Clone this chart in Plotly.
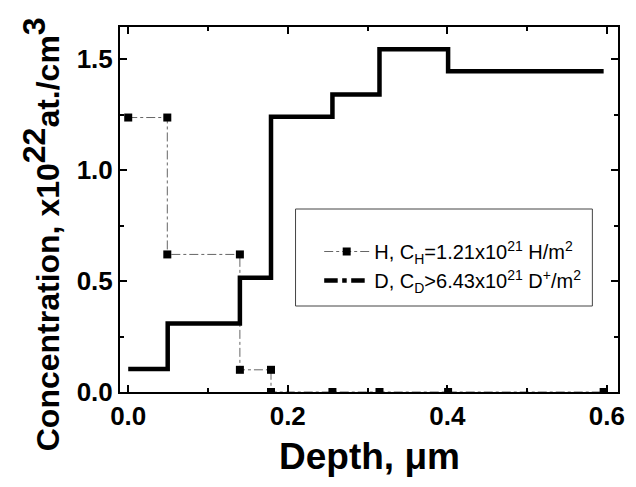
import plotly.graph_objects as go

# H profile (points with markers)
h_depth = [0.0, 0.049, 0.049, 0.140, 0.140, 0.179, 0.179, 0.256, 0.315, 0.401, 0.596]
h_conc = [1.237, 1.237, 0.620, 0.620, 0.100, 0.100, 0.0, 0.0, 0.0, 0.0, 0.0]

# D profile (step, horizontal then vertical)
d_depth = [0.0, 0.0495, 0.140, 0.179, 0.256, 0.315, 0.401, 0.596]
d_conc = [0.104, 0.309, 0.515, 1.240, 1.341, 1.545, 1.446, 1.446]

h_name = "H, C<sub>H</sub>=1.21x10<sup>21</sup> H/m<sup>2</sup>"
d_name = "D, C<sub>D</sub>&gt;6.43x10<sup>21</sup> D<sup>+</sup>/m<sup>2</sup>"

FONT = "Liberation Sans, Arial, sans-serif"

fig = go.Figure()
fig.add_trace(go.Scatter(
    x=h_depth, y=h_conc, mode="lines+markers", name=h_name,
    line=dict(color="#666666", width=1, dash="dashdot"),
    marker=dict(symbol="square", size=8, color="black"),
))
fig.add_trace(go.Scatter(
    x=d_depth, y=d_conc, mode="lines", name=d_name, showlegend=False,
    line=dict(color="black", width=4.5, shape="hv"),
))
fig.add_trace(go.Scatter(
    x=[None], y=[None], mode="lines", name=d_name,
    line=dict(color="black", width=4.5, dash="dashdot"),
))

axis_common = dict(
    showline=True, linecolor="black", linewidth=2, mirror="ticks",
    ticks="inside", ticklen=7, tickwidth=2, tickcolor="black",
    showgrid=False, zeroline=False,
    tickfont=dict(family=FONT, size=26, color="black", weight="bold"),
)

fig.update_xaxes(range=[-0.0103, 0.614], tickvals=[0, 0.2, 0.4, 0.6],
                 ticktext=["0.0", "0.2", "0.4", "0.6"],
                 minor=dict(dtick=0.1, tick0=0, ticks="inside", ticklen=4, tickwidth=2, tickcolor="black"),
                 **axis_common)
fig.update_yaxes(range=[0.0, 1.645], tickvals=[0, 0.5, 1.0, 1.5],
                 ticktext=["0.0", "0.5", "1.0", "1.5"],
                 minor=dict(dtick=0.25, tick0=0, ticks="inside", ticklen=4, tickwidth=2, tickcolor="black"),
                 **axis_common)

fig.add_annotation(
    text="Depth, \u03bcm", xref="paper", yref="paper", x=0.502, y=-0.178,
    xanchor="center", yanchor="middle", showarrow=False,
    font=dict(family=FONT, size=37, color="black", weight="bold"),
)
fig.add_annotation(
    text="Concentration, x10<sup><span style=\"font-size:32px\">22</span></sup>at./cm<sup><span style=\"font-size:32px\">3</span></sup>",
    xref="paper", yref="paper", x=-0.158, y=0.433, textangle=-90,
    xanchor="center", yanchor="middle", showarrow=False,
    font=dict(family=FONT, size=32, color="black", weight="bold"),
)

# legend frame
fig.add_shape(type="rect", xref="paper", yref="paper",
              x0=(298 - 120) / 505, x1=(599 - 120) / 505,
              y0=(392 - 306) / 365, y1=(392 - 209) / 365,
              line=dict(color="#444444", width=1), fillcolor="rgba(0,0,0,0)")

fig.update_layout(
    width=636, height=487,
    margin=dict(l=120, r=11, t=27, b=95),
    plot_bgcolor="white", paper_bgcolor="white",
    font=dict(family=FONT, color="black"),
    legend=dict(x=(322 - 120) / 505, y=(392 - 232) / 365, xanchor="left", yanchor="top",
                bgcolor="rgba(0,0,0,0)", borderwidth=0,
                font=dict(family=FONT, size=20, color="black"),
                itemwidth=45, tracegroupgap=0),
    showlegend=True,
)

fig.write_html("out.html")
